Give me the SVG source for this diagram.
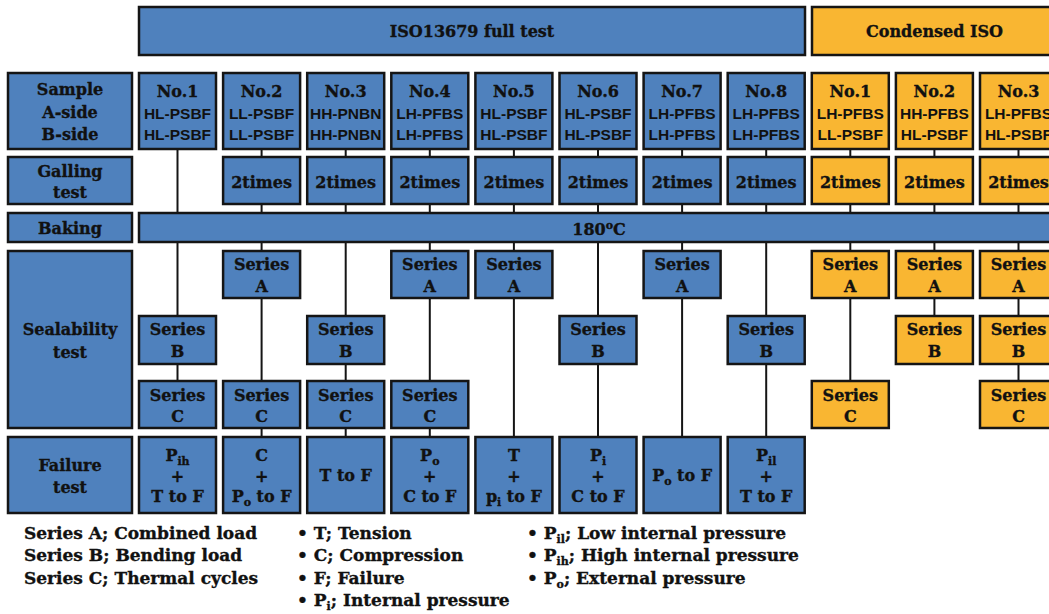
<svg xmlns="http://www.w3.org/2000/svg" width="1049" height="614" viewBox="0 0 1049 614">
<style>
.b{fill:#4F81BD;stroke:#151515;stroke-width:2.5}
.o{fill:#F9B632;stroke:#151515;stroke-width:2.5}
.t{font-family:"DejaVu Serif",serif;font-weight:bold;font-size:16px;text-anchor:middle;fill:#111;stroke:#111;stroke-width:0.35}
.s{font-family:"Liberation Sans",Arial,sans-serif;font-weight:bold;font-size:15.5px;text-anchor:middle;fill:#111}
.l{font-family:"DejaVu Serif",serif;font-weight:bold;font-size:17px;fill:#111;stroke:#111;stroke-width:0.35}
.c line{stroke:#151515;stroke-width:2}
.sub{font-size:11px}
</style>
<rect width="1049" height="614" fill="#fff"/>
<g class="c" id="connectors">
<line x1="177.5" y1="149" x2="177.5" y2="381"/>
<line x1="261.6" y1="149" x2="261.6" y2="437"/>
<line x1="345.7" y1="149" x2="345.7" y2="437"/>
<line x1="429.8" y1="149" x2="429.8" y2="437"/>
<line x1="513.9" y1="149" x2="513.9" y2="437"/>
<line x1="598" y1="149" x2="598" y2="437"/>
<line x1="682.1" y1="149" x2="682.1" y2="437"/>
<line x1="766.2" y1="149" x2="766.2" y2="437"/>
<line x1="850.3" y1="149" x2="850.3" y2="381"/>
<line x1="934.4" y1="149" x2="934.4" y2="316"/>
<line x1="1018.5" y1="149" x2="1018.5" y2="381"/>
</g>
<g id="header-full"><rect class="b" x="139" y="7" width="666" height="48"/><text class="t" x="472" y="37">ISO13679 full test</text></g>
<g id="header-condensed"><rect class="o" x="812" y="7" width="250" height="48"/><text class="t" x="934.5" y="37">Condensed ISO</text></g>
<g id="label-sample"><rect class="b" x="8" y="73" width="124" height="76"/><text class="t" x="70" y="95">Sample</text><text class="t" x="70" y="118">A-side</text><text class="t" x="70" y="140">B-side</text></g>
<g id="label-galling"><rect class="b" x="8" y="157" width="124" height="47"/><text class="t" x="70" y="177">Galling</text><text class="t" x="70" y="198">test</text></g>
<g id="label-baking"><rect class="b" x="8" y="213" width="124" height="29"/><text class="t" x="70" y="234">Baking</text></g>
<g id="label-sealability"><rect class="b" x="8" y="251" width="124" height="177"/><text class="t" x="70" y="335">Sealability</text><text class="t" x="70" y="358">test</text></g>
<g id="label-failure"><rect class="b" x="8" y="437" width="124" height="76"/><text class="t" x="70" y="471">Failure</text><text class="t" x="70" y="493">test</text></g>
<g id="baking-bar"><rect class="b" x="139" y="213" width="923" height="29"/><text class="t" x="599" y="235">180<tspan class="sub" dy="-6">o</tspan><tspan dy="6">C</tspan></text></g>
<g id="s1"><rect class="b" x="139" y="73" width="77" height="76"/><text class="t" x="177.5" y="97">No.1</text><text class="s" x="177.5" y="119">HL-PSBF</text><text class="s" x="177.5" y="140">HL-PSBF</text></g>
<g id="s2"><rect class="b" x="223.1" y="73" width="77" height="76"/><text class="t" x="261.6" y="97">No.2</text><text class="s" x="261.6" y="119">LL-PSBF</text><text class="s" x="261.6" y="140">LL-PSBF</text></g>
<g id="s3"><rect class="b" x="307.2" y="73" width="77" height="76"/><text class="t" x="345.7" y="97">No.3</text><text class="s" x="345.7" y="119">HH-PNBN</text><text class="s" x="345.7" y="140">HH-PNBN</text></g>
<g id="s4"><rect class="b" x="391.3" y="73" width="77" height="76"/><text class="t" x="429.8" y="97">No.4</text><text class="s" x="429.8" y="119">LH-PFBS</text><text class="s" x="429.8" y="140">LH-PFBS</text></g>
<g id="s5"><rect class="b" x="475.4" y="73" width="77" height="76"/><text class="t" x="513.9" y="97">No.5</text><text class="s" x="513.9" y="119">HL-PSBF</text><text class="s" x="513.9" y="140">HL-PSBF</text></g>
<g id="s6"><rect class="b" x="559.5" y="73" width="77" height="76"/><text class="t" x="598" y="97">No.6</text><text class="s" x="598" y="119">HL-PSBF</text><text class="s" x="598" y="140">HL-PSBF</text></g>
<g id="s7"><rect class="b" x="643.6" y="73" width="77" height="76"/><text class="t" x="682.1" y="97">No.7</text><text class="s" x="682.1" y="119">LH-PFBS</text><text class="s" x="682.1" y="140">LH-PFBS</text></g>
<g id="s8"><rect class="b" x="727.7" y="73" width="77" height="76"/><text class="t" x="766.2" y="97">No.8</text><text class="s" x="766.2" y="119">LH-PFBS</text><text class="s" x="766.2" y="140">LH-PFBS</text></g>
<g id="c1"><rect class="o" x="811.8" y="73" width="77" height="76"/><text class="t" x="850.3" y="97">No.1</text><text class="s" x="850.3" y="119">LH-PFBS</text><text class="s" x="850.3" y="140">LL-PSBF</text></g>
<g id="c2"><rect class="o" x="895.9" y="73" width="77" height="76"/><text class="t" x="934.4" y="97">No.2</text><text class="s" x="934.4" y="119">HH-PFBS</text><text class="s" x="934.4" y="140">HL-PSBF</text></g>
<g id="c3"><rect class="o" x="980" y="73" width="77" height="76"/><text class="t" x="1018.5" y="97">No.3</text><text class="s" x="1018.5" y="119">LH-PFBS</text><text class="s" x="1018.5" y="140">HL-PSBF</text></g>
<g id="g2"><rect class="b" x="223.1" y="157" width="77" height="47"/><text class="t" x="261.6" y="188">2times</text></g>
<g id="g3"><rect class="b" x="307.2" y="157" width="77" height="47"/><text class="t" x="345.7" y="188">2times</text></g>
<g id="g4"><rect class="b" x="391.3" y="157" width="77" height="47"/><text class="t" x="429.8" y="188">2times</text></g>
<g id="g5"><rect class="b" x="475.4" y="157" width="77" height="47"/><text class="t" x="513.9" y="188">2times</text></g>
<g id="g6"><rect class="b" x="559.5" y="157" width="77" height="47"/><text class="t" x="598" y="188">2times</text></g>
<g id="g7"><rect class="b" x="643.6" y="157" width="77" height="47"/><text class="t" x="682.1" y="188">2times</text></g>
<g id="g8"><rect class="b" x="727.7" y="157" width="77" height="47"/><text class="t" x="766.2" y="188">2times</text></g>
<g id="gc1"><rect class="o" x="811.8" y="157" width="77" height="47"/><text class="t" x="850.3" y="188">2times</text></g>
<g id="gc2"><rect class="o" x="895.9" y="157" width="77" height="47"/><text class="t" x="934.4" y="188">2times</text></g>
<g id="gc3"><rect class="o" x="980" y="157" width="77" height="47"/><text class="t" x="1018.5" y="188">2times</text></g>
<g id="a2"><rect class="b" x="223.1" y="251" width="77" height="47"/><text class="t" x="261.6" y="270">Series</text><text class="t" x="261.6" y="292">A</text></g>
<g id="a4"><rect class="b" x="391.3" y="251" width="77" height="47"/><text class="t" x="429.8" y="270">Series</text><text class="t" x="429.8" y="292">A</text></g>
<g id="a5"><rect class="b" x="475.4" y="251" width="77" height="47"/><text class="t" x="513.9" y="270">Series</text><text class="t" x="513.9" y="292">A</text></g>
<g id="a7"><rect class="b" x="643.6" y="251" width="77" height="47"/><text class="t" x="682.1" y="270">Series</text><text class="t" x="682.1" y="292">A</text></g>
<g id="ac1"><rect class="o" x="811.8" y="251" width="77" height="47"/><text class="t" x="850.3" y="270">Series</text><text class="t" x="850.3" y="292">A</text></g>
<g id="ac2"><rect class="o" x="895.9" y="251" width="77" height="47"/><text class="t" x="934.4" y="270">Series</text><text class="t" x="934.4" y="292">A</text></g>
<g id="ac3"><rect class="o" x="980" y="251" width="77" height="47"/><text class="t" x="1018.5" y="270">Series</text><text class="t" x="1018.5" y="292">A</text></g>
<g id="b1"><rect class="b" x="139" y="316" width="77" height="48"/><text class="t" x="177.5" y="335">Series</text><text class="t" x="177.5" y="357">B</text></g>
<g id="b3"><rect class="b" x="307.2" y="316" width="77" height="48"/><text class="t" x="345.7" y="335">Series</text><text class="t" x="345.7" y="357">B</text></g>
<g id="b6"><rect class="b" x="559.5" y="316" width="77" height="48"/><text class="t" x="598" y="335">Series</text><text class="t" x="598" y="357">B</text></g>
<g id="b8"><rect class="b" x="727.7" y="316" width="77" height="48"/><text class="t" x="766.2" y="335">Series</text><text class="t" x="766.2" y="357">B</text></g>
<g id="bc2"><rect class="o" x="895.9" y="316" width="77" height="48"/><text class="t" x="934.4" y="335">Series</text><text class="t" x="934.4" y="357">B</text></g>
<g id="bc3"><rect class="o" x="980" y="316" width="77" height="48"/><text class="t" x="1018.5" y="335">Series</text><text class="t" x="1018.5" y="357">B</text></g>
<g id="cc1s"><rect class="b" x="139" y="381" width="77" height="47"/><text class="t" x="177.5" y="401">Series</text><text class="t" x="177.5" y="422">C</text></g>
<g id="cc2s"><rect class="b" x="223.1" y="381" width="77" height="47"/><text class="t" x="261.6" y="401">Series</text><text class="t" x="261.6" y="422">C</text></g>
<g id="cc3s"><rect class="b" x="307.2" y="381" width="77" height="47"/><text class="t" x="345.7" y="401">Series</text><text class="t" x="345.7" y="422">C</text></g>
<g id="cc4s"><rect class="b" x="391.3" y="381" width="77" height="47"/><text class="t" x="429.8" y="401">Series</text><text class="t" x="429.8" y="422">C</text></g>
<g id="ccc1"><rect class="o" x="811.8" y="381" width="77" height="47"/><text class="t" x="850.3" y="401">Series</text><text class="t" x="850.3" y="422">C</text></g>
<g id="ccc3"><rect class="o" x="980" y="381" width="77" height="47"/><text class="t" x="1018.5" y="401">Series</text><text class="t" x="1018.5" y="422">C</text></g>
<g id="f1"><rect class="b" x="139" y="437" width="77" height="76"/><text class="t" x="177.5" y="461">P<tspan class="sub" dy="4">ih</tspan></text><text class="t" x="177.5" y="482">+</text><text class="t" x="177.5" y="502">T to F</text></g>
<g id="f2"><rect class="b" x="223.1" y="437" width="77" height="76"/><text class="t" x="261.6" y="461">C</text><text class="t" x="261.6" y="482">+</text><text class="t" x="261.6" y="502">P<tspan class="sub" dy="4">o</tspan><tspan dy="-4"> to F</tspan></text></g>
<g id="f3"><rect class="b" x="307.2" y="437" width="77" height="76"/><text class="t" x="345.7" y="481">T to F</text></g>
<g id="f4"><rect class="b" x="391.3" y="437" width="77" height="76"/><text class="t" x="429.8" y="461">P<tspan class="sub" dy="4">o</tspan></text><text class="t" x="429.8" y="482">+</text><text class="t" x="429.8" y="502">C to F</text></g>
<g id="f5"><rect class="b" x="475.4" y="437" width="77" height="76"/><text class="t" x="513.9" y="461">T</text><text class="t" x="513.9" y="482">+</text><text class="t" x="513.9" y="502">p<tspan class="sub" dy="4">i</tspan><tspan dy="-4"> to F</tspan></text></g>
<g id="f6"><rect class="b" x="559.5" y="437" width="77" height="76"/><text class="t" x="598" y="461">P<tspan class="sub" dy="4">i</tspan></text><text class="t" x="598" y="482">+</text><text class="t" x="598" y="502">C to F</text></g>
<g id="f7"><rect class="b" x="643.6" y="437" width="77" height="76"/><text class="t" x="682.1" y="481">P<tspan class="sub" dy="4">o</tspan><tspan dy="-4"> to F</tspan></text></g>
<g id="f8"><rect class="b" x="727.7" y="437" width="77" height="76"/><text class="t" x="766.2" y="461">P<tspan class="sub" dy="4">il</tspan></text><text class="t" x="766.2" y="482">+</text><text class="t" x="766.2" y="502">T to F</text></g>
<g id="legend">
<text class="l" x="24" y="539">Series A; Combined load</text>
<text class="l" x="24" y="561">Series B; Bending load</text>
<text class="l" x="24" y="584">Series C; Thermal cycles</text>
<text class="l" x="297" y="539">• T; Tension</text>
<text class="l" x="297" y="561">• C; Compression</text>
<text class="l" x="297" y="584">• F; Failure</text>
<text class="l" x="297" y="606">• P<tspan class="sub" dy="4">i</tspan><tspan dy="-4">; Internal pressure</tspan></text>
<text class="l" x="527" y="539">• P<tspan class="sub" dy="4">il</tspan><tspan dy="-4">; Low internal pressure</tspan></text>
<text class="l" x="527" y="561">• P<tspan class="sub" dy="4">ih</tspan><tspan dy="-4">; High internal pressure</tspan></text>
<text class="l" x="527" y="584">• P<tspan class="sub" dy="4">o</tspan><tspan dy="-4">; External pressure</tspan></text>
</g>
</svg>
